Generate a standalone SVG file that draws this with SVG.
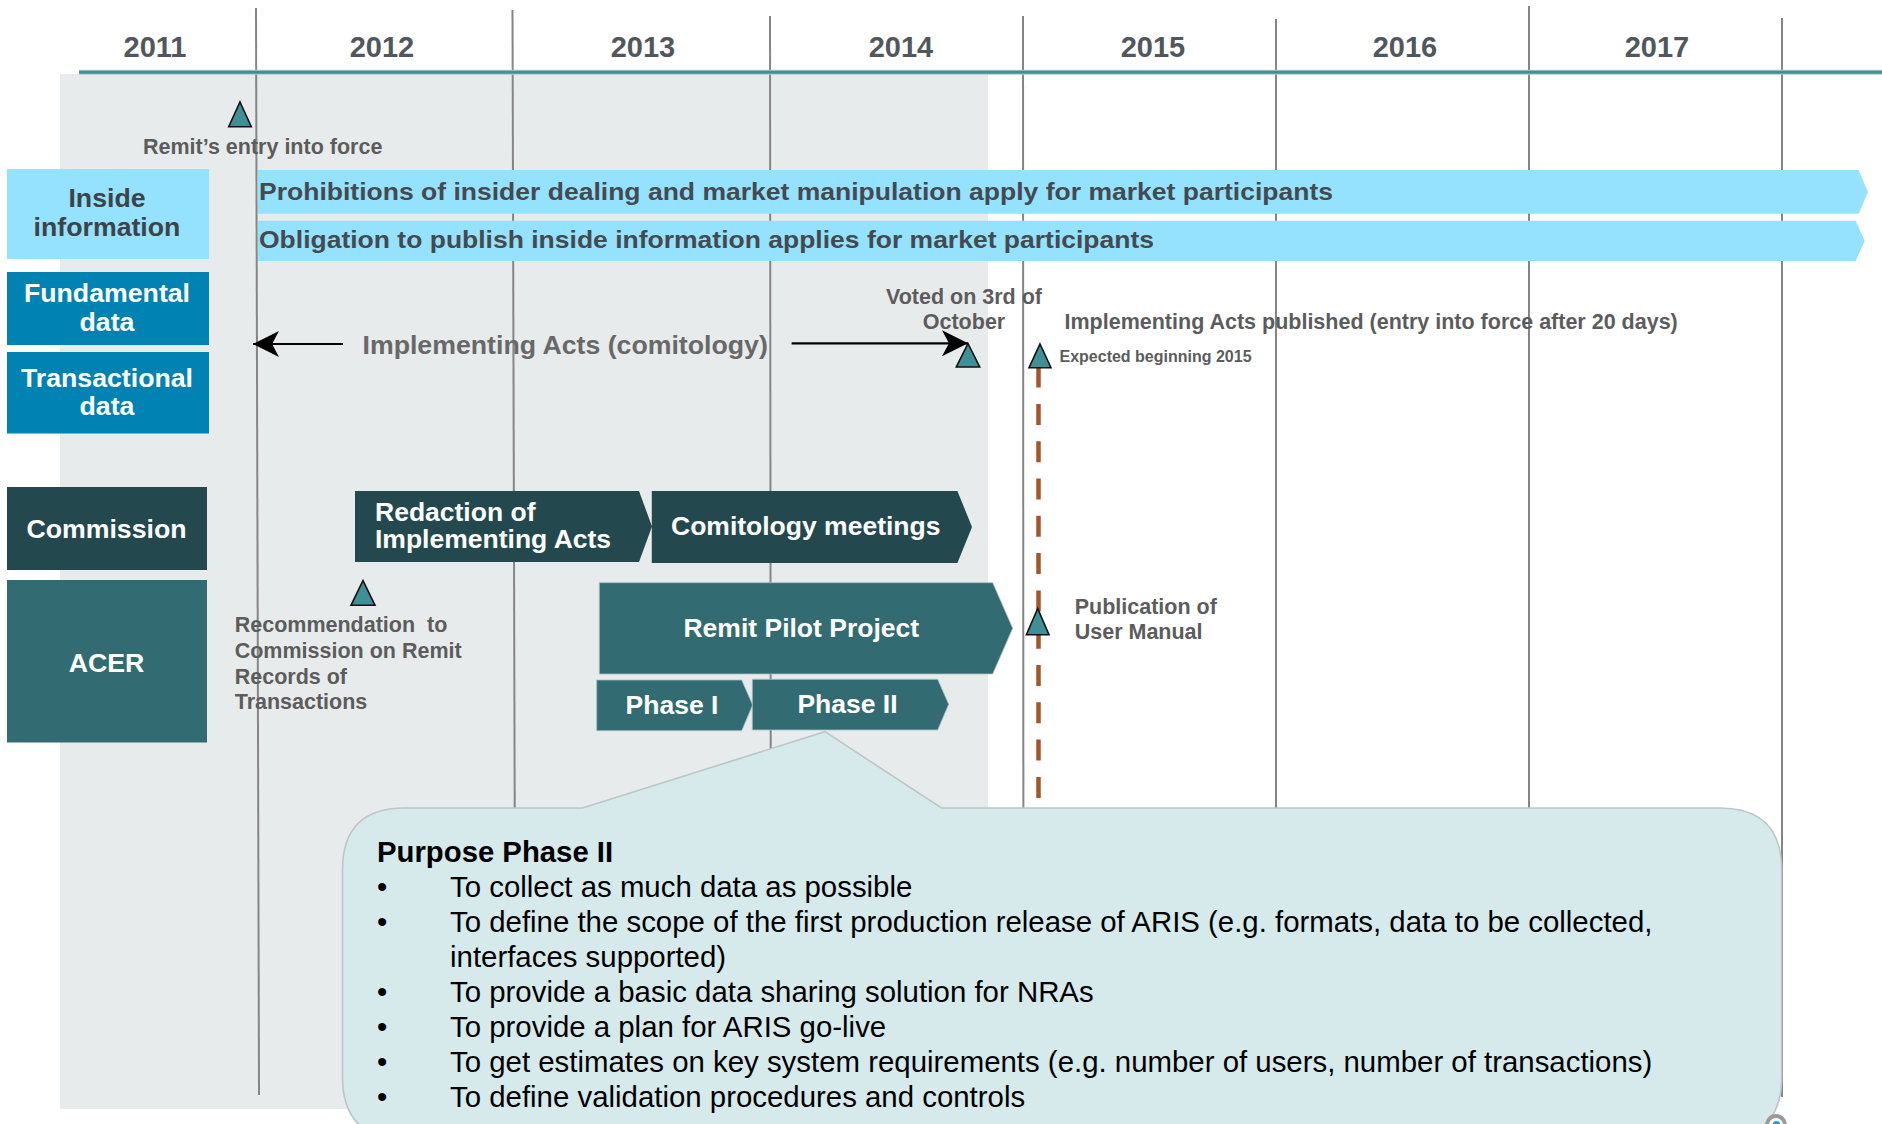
<svg xmlns="http://www.w3.org/2000/svg" width="1882" height="1124" viewBox="0 0 1882 1124">
<defs>
<style>
text{font-family:"Liberation Sans",Arial,sans-serif;}
.yr{font-size:29px;font-weight:bold;fill:#51575d;text-anchor:middle;}
.vl{stroke:#858585;stroke-width:2;fill:none;}
.lbl{font-size:26.7px;font-weight:bold;text-anchor:middle;}
.wt{fill:#ffffff;}
.row{fill:#94e2fd;}
.rowt{font-size:24.5px;font-weight:bold;fill:#444a50;}
.ms{fill:#3f8f96;stroke:#111;stroke-width:1.6;stroke-linejoin:miter;}
.gt{font-size:21.5px;font-weight:bold;fill:#5c5c5c;}
.bar{font-size:26.5px;font-weight:bold;fill:#ffffff;}
.cm{fill:#23494f;}
.ac{fill:#336b72;stroke:#a9bfc2;stroke-width:0.8;}
.bt{font-size:29.4px;fill:#000;}
</style>
<marker id="ah" markerUnits="userSpaceOnUse" markerWidth="30" markerHeight="30" viewBox="-28 -15 30 30" refX="0" refY="0" orient="auto">
<path d="M0,0 L-26,-13 L-19,0 L-26,13 Z" fill="#000"/>
</marker>
</defs>
<rect width="1882" height="1124" fill="#ffffff"/>
<rect id="past-period" x="60" y="74" width="928" height="1035" fill="#e8ebec"/>
<g id="year-grid">
<line class="vl" x1="256" y1="8" x2="259" y2="1095"/>
<line class="vl" x1="512.5" y1="10" x2="515.5" y2="1095"/>
<line class="vl" x1="770" y1="16" x2="771" y2="1095"/>
<line class="vl" x1="1023" y1="16" x2="1023.5" y2="1095"/>
<line class="vl" x1="1276" y1="19" x2="1276" y2="1095"/>
<line class="vl" x1="1529" y1="6" x2="1529" y2="1095"/>
<line class="vl" x1="1782" y1="18" x2="1782" y2="1097"/>
</g>
<g id="timeline">
<line x1="79" y1="72.3" x2="1882" y2="72.3" stroke="#a8cdd1" stroke-width="5"/>
<line x1="79" y1="72.3" x2="1882" y2="72.3" stroke="#468e96" stroke-width="3"/>
<text class="yr" x="155" y="56.5">2011</text>
<text class="yr" x="382" y="56.5">2012</text>
<text class="yr" x="643" y="56.5">2013</text>
<text class="yr" x="901" y="56.5">2014</text>
<text class="yr" x="1153" y="56.5">2015</text>
<text class="yr" x="1405" y="56.5">2016</text>
<text class="yr" x="1657" y="56.5">2017</text>
</g>
<g id="lane-inside-information">
<rect x="7" y="169" width="202" height="90" fill="#94e2fd"/>
<text class="lbl" x="107" y="207" fill="#3d4349">Inside</text>
<text class="lbl" x="107" y="236" fill="#3d4349">information</text>
</g>
<g id="lane-fundamental-data">
<rect x="7" y="272" width="202" height="73" fill="#0083b3"/>
<text class="lbl wt" x="107" y="301.5">Fundamental</text>
<text class="lbl wt" x="107" y="330.5">data</text>
</g>
<g id="lane-transactional-data">
<rect x="7" y="352" width="202" height="81.5" fill="#0083b3"/>
<text class="lbl wt" x="107" y="386.5">Transactional</text>
<text class="lbl wt" x="107" y="415">data</text>
</g>
<g id="lane-commission">
<rect x="7" y="487" width="200" height="83" fill="#23494f"/>
<text class="lbl wt" x="106.5" y="537.5">Commission</text>
</g>
<g id="lane-acer">
<rect x="7" y="580" width="200" height="162.5" fill="#336b72"/>
<text class="lbl wt" x="106.5" y="672">ACER</text>
</g>
<g id="bar-prohibitions">
<path class="row" d="M258,170 L1858.6,170 L1868,192 L1858.6,213.7 L258,213.7 Z"/>
<text class="rowt" x="259" y="200" textLength="1074" lengthAdjust="spacingAndGlyphs">Prohibitions of insider dealing and market manipulation apply for market participants</text>
</g>
<g id="bar-obligation">
<path class="row" d="M258,220.7 L1855.7,220.7 L1864.6,240.8 L1855.7,261 L258,261 Z"/>
<text class="rowt" x="259" y="248.3" textLength="895" lengthAdjust="spacingAndGlyphs">Obligation to publish inside information applies for market participants</text>
</g>
<g id="connectors">
<line x1="343" y1="344" x2="253" y2="344" stroke="#000" stroke-width="2.2" marker-end="url(#ah)"/>
<line x1="791.6" y1="343.3" x2="968" y2="343.3" stroke="#000" stroke-width="2.2" marker-end="url(#ah)"/>
<line x1="1038.5" y1="366.6" x2="1038.5" y2="798" stroke="#a4552a" stroke-width="4.5" stroke-dasharray="21 16.3"/>
</g>
<g id="milestone-remit-entry">
<path class="ms" d="M240,102 L251.3,126.7 L228.7,126.7 Z"/>
<text class="gt" x="143" y="154">Remit’s entry into force</text>
</g>
<g id="label-implementing-acts">
<text x="362.5" y="354" font-size="26.7" font-weight="bold" fill="#686868">Implementing Acts (comitology)</text>
</g>
<g id="milestone-voted">
<path class="ms" d="M968,343.5 L979.7,367 L956.3,367 Z"/>
<text class="gt" x="964" y="304" text-anchor="middle">Voted on 3rd of</text>
<text class="gt" x="964" y="329" text-anchor="middle">October</text>
</g>
<g id="label-published">
<text class="gt" x="1064.5" y="329">Implementing Acts published (entry into force after 20 days)</text>
</g>
<g id="milestone-expected">
<path class="ms" d="M1040,344 L1051,367.7 L1029,367.7 Z"/>
<text x="1059.5" y="362" font-size="16" font-weight="bold" fill="#5c5c5c">Expected beginning 2015</text>
</g>
<g id="milestone-user-manual">
<path class="ms" d="M1037.7,608.5 L1049,634.7 L1026.4,634.7 Z"/>
<text class="gt" x="1074.7" y="614">Publication of</text>
<text class="gt" x="1074.7" y="639">User Manual</text>
</g>
<g id="milestone-recommendation">
<path class="ms" d="M363,580.5 L375,605.3 L351,605.3 Z"/>
<text class="gt" x="234.7" y="632" xml:space="preserve">Recommendation  to</text>
<text class="gt" x="234.7" y="658">Commission on Remit</text>
<text class="gt" x="234.7" y="683.5">Records of</text>
<text class="gt" x="234.7" y="709">Transactions</text>
</g>
<g id="bar-redaction">
<path class="cm" d="M355,491 L639,491 L652,526.5 L639,562 L355,562 Z"/>
<text class="bar" x="375" y="520.7">Redaction of</text>
<text class="bar" x="375" y="548">Implementing Acts</text>
</g>
<g id="bar-comitology">
<path class="cm" d="M651.8,491 L957.4,491 L972,527 L957.4,563 L651.8,563 Z"/>
<text class="bar" x="671" y="535">Comitology meetings</text>
</g>
<g id="bar-remit-pilot">
<path class="ac" d="M599.3,582.7 L992.7,582.7 L1012.7,628.3 L992.7,674 L599.3,674 Z"/>
<text class="bar" x="801.3" y="636.7" text-anchor="middle">Remit Pilot Project</text>
</g>
<g id="bar-phase-1">
<path class="ac" d="M596.7,680 L741.7,680 L752.7,705 L741.7,730.7 L596.7,730.7 Z"/>
<text class="bar" x="672" y="714" text-anchor="middle">Phase I</text>
</g>
<g id="bar-phase-2">
<path class="ac" d="M752.3,679.3 L937.7,679.3 L948.7,704.3 L937.7,730 L752.3,730 Z"/>
<text class="bar" x="847.5" y="712.7" text-anchor="middle">Phase II</text>
</g>
<g id="callout-purpose-phase-2">
<path d="M404.5,808 L582.5,808 L825,731.7 L941.5,808 L1719.7,808 Q1781.7,808 1781.7,870 L1781.7,1077 Q1781.7,1139 1719.7,1139 L404.5,1139 Q342.5,1139 342.5,1077 L342.5,870 Q342.5,808 404.5,808 Z" fill="#d6eaec" stroke="#bcc6c8" stroke-width="1.6"/>
<text x="377" y="862.3" font-size="29.3" font-weight="bold" fill="#000">Purpose Phase II</text>
<g class="bt">
<text x="377" y="897.3">•</text><text x="450" y="897.3">To collect as much data as possible</text>
<text x="377" y="932.3">•</text><text x="450" y="932.3">To define the scope of the first production release of ARIS (e.g. formats, data to be collected,</text>
<text x="450" y="967.3">interfaces supported)</text>
<text x="377" y="1002">•</text><text x="450" y="1002">To provide a basic data sharing solution for NRAs</text>
<text x="377" y="1037">•</text><text x="450" y="1037">To provide a plan for ARIS go-live</text>
<text x="377" y="1072">•</text><text x="450" y="1072">To get estimates on key system requirements (e.g. number of users, number of transactions)</text>
<text x="377" y="1107">•</text><text x="450" y="1107">To define validation procedures and controls</text>
</g>
</g>
<g id="corner-icon">
<circle cx="1776" cy="1125" r="9" fill="#ffffff" stroke="#9a9a9a" stroke-width="4"/>
<circle cx="1776.5" cy="1125" r="4" fill="#1aa3e0"/>
</g>
</svg>
